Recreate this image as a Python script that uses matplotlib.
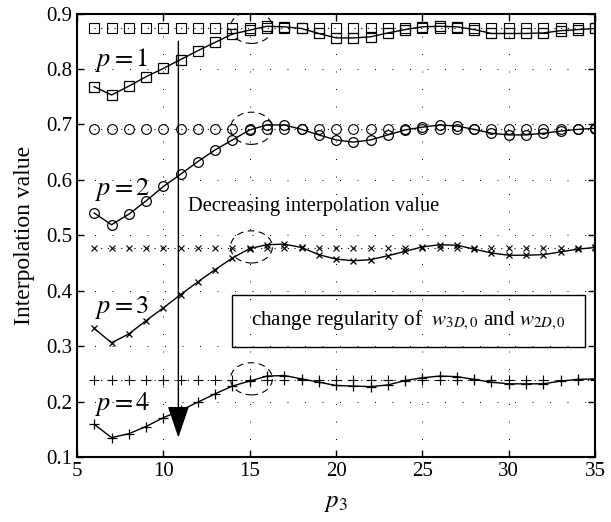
import matplotlib
matplotlib.use("Agg")
import matplotlib.pyplot as plt
from matplotlib.patches import Ellipse, Rectangle

plt.rcParams['font.family'] = ['Liberation Serif', 'DejaVu Serif']
plt.rcParams['mathtext.fontset'] = 'stix'

p3 = [6, 7, 8, 9, 10, 11, 12, 13, 14, 15, 16, 17, 18, 19, 20,
      21, 22, 23, 24, 25, 26, 27, 28, 29, 30, 31, 32, 33, 34, 35]

# interpolation value for each p
interp_p1 = [0.768, 0.753, 0.769, 0.786, 0.801, 0.817, 0.833, 0.848, 0.863, 0.870,
             0.877, 0.876, 0.873, 0.864, 0.856, 0.856, 0.858, 0.865, 0.871, 0.876,
             0.877, 0.876, 0.871, 0.864, 0.864, 0.864, 0.865, 0.869, 0.871, 0.873]
interp_p2 = [0.540, 0.519, 0.538, 0.562, 0.588, 0.610, 0.633, 0.654, 0.672, 0.690,
             0.699, 0.699, 0.691, 0.681, 0.672, 0.668, 0.672, 0.681, 0.690, 0.695,
             0.699, 0.697, 0.691, 0.684, 0.681, 0.681, 0.684, 0.688, 0.691, 0.693]
interp_p3 = [0.332, 0.306, 0.322, 0.346, 0.369, 0.393, 0.416, 0.438, 0.459, 0.476,
             0.483, 0.484, 0.478, 0.465, 0.457, 0.454, 0.456, 0.463, 0.471, 0.479,
             0.483, 0.482, 0.475, 0.468, 0.464, 0.464, 0.465, 0.470, 0.475, 0.478]
interp_p4 = [0.159, 0.135, 0.142, 0.155, 0.171, 0.184, 0.199, 0.214, 0.228, 0.237,
             0.246, 0.247, 0.241, 0.235, 0.229, 0.228, 0.227, 0.230, 0.238, 0.243,
             0.246, 0.245, 0.240, 0.235, 0.232, 0.232, 0.232, 0.237, 0.240, 0.241]

# limit values (2D regularity) for each p
limit_vals = [0.873, 0.691, 0.477, 0.239]
markers = ['s', 'o', 'x', '+']
msizes = [6.5, 7, 4, 6.5]
labels = [r'$p=1$', r'$p=2$', r'$p=3$', r'$p=4$']
label_y = [0.816, 0.582, 0.369, 0.195]
series = [interp_p1, interp_p2, interp_p3, interp_p4]

fig = plt.figure(figsize=(6.11, 5.22), dpi=100)
ax = fig.add_axes([0.126, 0.1245, 0.848, 0.8496])

for vals, lim, mk, ms in zip(series, limit_vals, markers, msizes):
    ax.plot(p3, [lim] * len(p3), color='black', lw=0.8, ls=(0, (1, 5)),
            marker=mk, ms=ms, mfc='none', mec='black', mew=0.8)
    ax.plot(p3, vals, color='black', lw=1.0,
            marker=mk, ms=ms, mfc='none', mec='black', mew=0.9)

for txt, y in zip(labels, label_y):
    ax.text(6.05, y, txt, fontsize=19, va='center', ha='left')

# dashed rings around where the curves reach their limit
for lim in limit_vals:
    ax.add_patch(Ellipse((15.1, lim + 0.002), 2.43, 0.058, fill=False,
                         ec='black', lw=0.8, ls=(0, (6, 4))))

ax.annotate('', xy=(10.87, 0.135), xytext=(10.87, 0.85),
            arrowprops=dict(arrowstyle='-|>,head_length=1.0,head_width=0.34',
                            mutation_scale=20, color='black', lw=1.0,
                            shrinkA=0, shrinkB=0))
ax.text(11.4, 0.552, 'Decreasing interpolation value', fontsize=14.8,
        va='center', ha='left')

ax.add_patch(Rectangle((14.0, 0.299), 20.4, 0.094, fill=False,
                       ec='black', lw=1.0))
ax.text(24.2, 0.346, r'change regularity of  $w_{3D,0}$ and $w_{2D,0}$',
        fontsize=15.2, va='center', ha='center')

ax.set_xlim(5, 35)
ax.set_ylim(0.1, 0.9)
ax.set_xticks([5, 10, 15, 20, 25, 30, 35])
ax.set_yticks([0.1, 0.2, 0.3, 0.4, 0.5, 0.6, 0.7, 0.8, 0.9])
ax.grid(True, color='black', lw=0.7, ls=(0, (1, 17)))
ax.tick_params(direction='in', top=True, right=True, labelsize=15,
               length=5, width=1)
for s in ax.spines.values():
    s.set_linewidth(1.5)

ax.set_xlabel(r'$p_3$', fontsize=18, labelpad=8)
ax.set_ylabel('Interpolation value', fontsize=17, labelpad=8)

fig.savefig('out.png', dpi=100)
